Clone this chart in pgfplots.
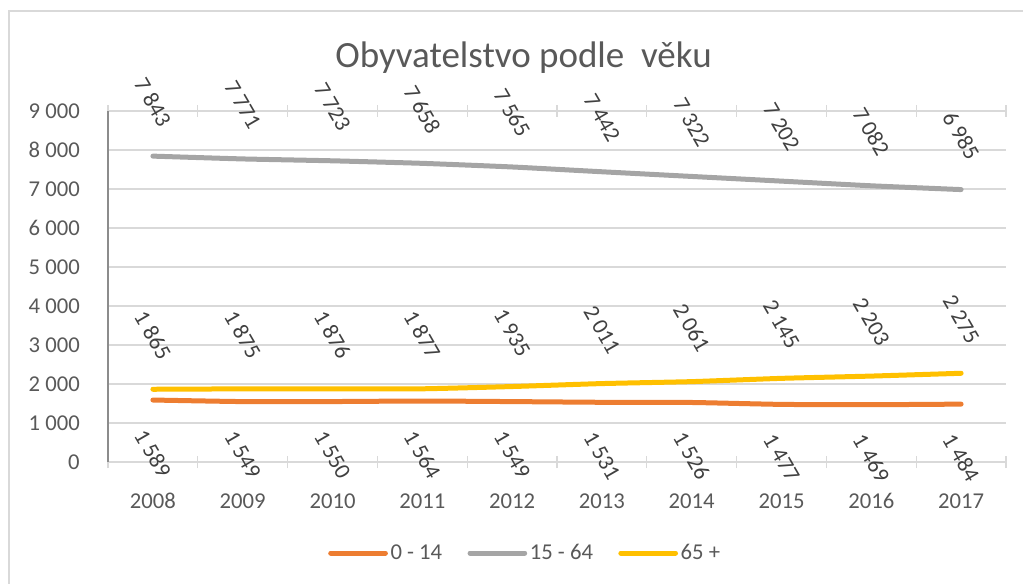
\documentclass[border=0pt]{standalone}
\usepackage{pgfplots}
\pgfplotsset{compat=1.18}
\usepackage{fontspec}
\setmainfont{Carlito}
\definecolor{cOrange}{HTML}{ED7D31}
\definecolor{cGray}{HTML}{A5A5A5}
\definecolor{cGold}{HTML}{FFC000}
\definecolor{gridc}{HTML}{D9D9D9}
\definecolor{txt}{HTML}{595959}
\definecolor{lbl}{HTML}{404040}
\begin{document}
\begin{tikzpicture}
\path[use as bounding box] (0pt,0pt) rectangle (767.25pt,-438pt);
\draw[gridc, line width=1pt] (6.75pt,-438pt) -- (6.75pt,-8.25pt) -- (767.25pt,-8.25pt);
\node[text=txt, font=\fontsize{27.75}{33}\selectfont, anchor=center] at (392.6pt,-43.5pt) {Obyvatelstvo podle\ \ věku};
\begin{axis}[
  at={(81pt,-346.5pt)}, anchor=south west,
  scale only axis, width=673.5pt, height=263.25pt,
  xmin=-0.5, xmax=9.5, ymin=0, ymax=9000,
  axis line style={draw=none},
  xtick={0,...,9},
  xticklabels={2008,2009,2010,2011,2012,2013,2014,2015,2016,2017},
  minor xtick={-0.5,0.5,...,9.5},
  major tick length=0pt, minor tick length=9pt, tick align=center,
  minor tick style={gridc, line width=0.9pt},
  ytick={0,1000,...,9000},
  yticklabels={0,1 000,2 000,3 000,4 000,5 000,6 000,7 000,8 000,9 000},
  ymajorgrids, grid style={gridc, line width=0.9pt},
  tick label style={text=txt, font=\fontsize{17}{20}\selectfont},
  xticklabel style={anchor=base, yshift=-34.5pt},
  yticklabel style={anchor=east, inner sep=0pt, xshift=-21pt},
  clip=false,
  nodes near coords,
  /pgf/number format/.cd, assume math mode=true, 1000 sep={\ }, /pgfplots/.cd,
  every node near coord/.append style={text=lbl, font=\fontsize{17}{20}\selectfont, anchor=center},
  legend style={draw=none, fill=none, at={(0.4649,-0.2593)}, anchor=center,
    legend columns=3, font=\fontsize{17}{20}\selectfont, text=txt,
    /tikz/every even column/.append style={column sep=17pt}},
  legend image code/.code={\draw[#1, line cap=round] (0pt,0pt) -- (41pt,0pt);},
]
\addplot[cOrange, line width=3.75pt, line cap=round, smooth, tension=0.3,
  every node near coord/.append style={yshift=-40pt, rotate=-60, anchor=center}]
  coordinates {(0,1589) (1,1549) (2,1550) (3,1564) (4,1549) (5,1531) (6,1526) (7,1477) (8,1469) (9,1484)};
\addlegendentry{0 - 14}
\addplot[cGray, line width=3.75pt, line cap=round, smooth, tension=0.3,
  every node near coord/.append style={yshift=40.5pt, rotate=-60, anchor=center}]
  coordinates {(0,7843) (1,7771) (2,7723) (3,7658) (4,7565) (5,7442) (6,7322) (7,7202) (8,7082) (9,6985)};
\addlegendentry{15 - 64}
\addplot[cGold, line width=3.75pt, line cap=round, smooth, tension=0.3,
  every node near coord/.append style={yshift=40.5pt, rotate=-60, anchor=center}]
  coordinates {(0,1865) (1,1875) (2,1876) (3,1877) (4,1935) (5,2011) (6,2061) (7,2145) (8,2203) (9,2275)};
\addlegendentry{65 +}
\draw[gridc, line width=0.9pt] (axis cs:-0.5,0) -- (axis cs:9.5,0);
\draw[gray!90, line width=0.9pt] (axis cs:-0.5,0) -- (axis cs:-0.5,9000);
\end{axis}
\end{tikzpicture}
\end{document}
